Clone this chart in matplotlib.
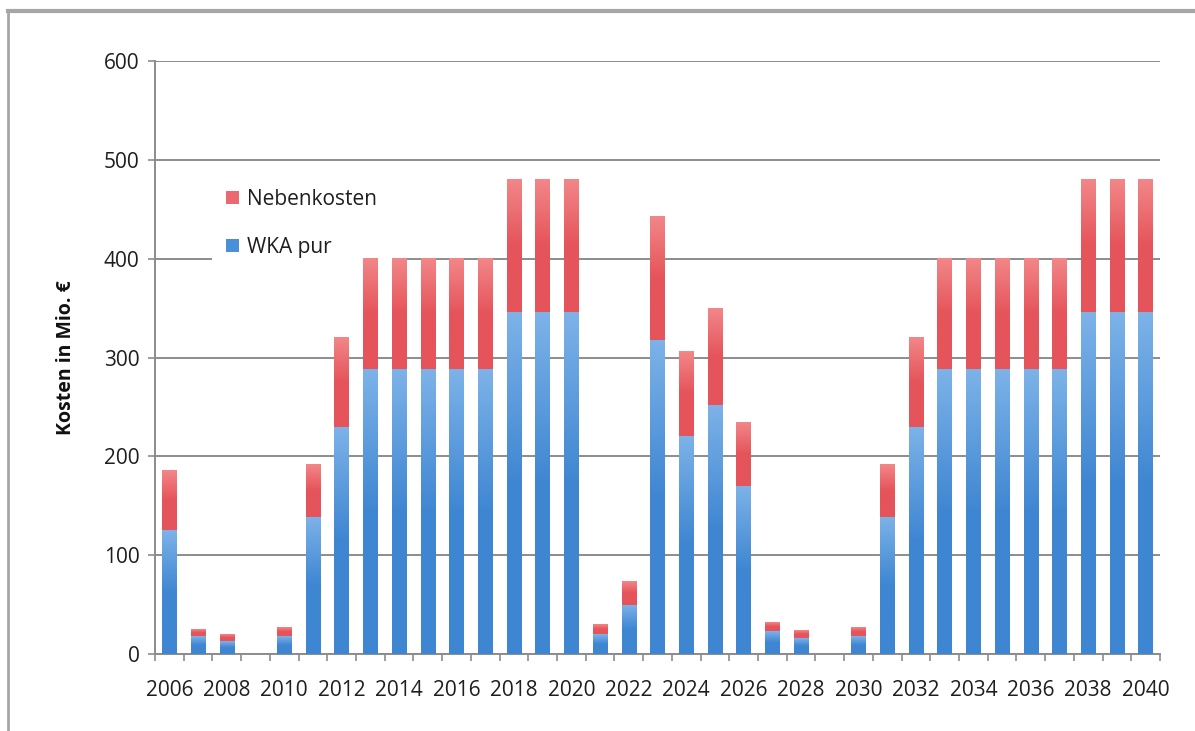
import numpy as np
import matplotlib
matplotlib.use("Agg")
import matplotlib.pyplot as plt
from matplotlib.colors import LinearSegmentedColormap
from matplotlib.patches import Patch
from matplotlib.lines import Line2D

plt.rcParams['font.family'] = ['Open Sans', 'DejaVu Sans']

years = list(range(2006, 2041))
wka_pur = [125, 18, 13, 0, 18, 139, 230,
           288, 288, 288, 288, 288, 346, 346, 346,
           20, 50, 318, 221, 252, 170, 23, 16, 0, 18, 139, 230,
           288, 288, 288, 288, 288, 346, 346, 346]
nebenkosten = [60, 7, 7, 0, 9, 53, 91,
               112, 112, 112, 112, 112, 134, 134, 134,
               10, 24, 125, 86, 98, 64, 9, 8, 0, 9, 53, 91,
               112, 112, 112, 112, 112, 134, 134, 134]
tick_labels = [str(y) if (y - 2006) % 2 == 0 else "" for y in years]

blue_top, blue_bot = "#7cb2e8", "#3f86d2"
red_top, red_bot = "#f28688", "#e5545a"

fig = plt.figure(figsize=(11.95, 7.31), dpi=100)
ax = fig.add_axes([155 / 1195, 77 / 731, 1005 / 1195, 593 / 731])

x = np.arange(len(years))
b1 = ax.bar(x, wka_pur, width=0.5, color="none", zorder=3)
b2 = ax.bar(x, nebenkosten, width=0.5, bottom=wka_pur, color="none", zorder=3)


def shade(bars, top, bot):
    # vertical gradient fill for every bar segment
    cmap = LinearSegmentedColormap.from_list("g", [bot, bot, top])
    grad = np.linspace(0, 1, 64)[:, None]
    for b in bars:
        h = b.get_height()
        if h <= 0:
            continue
        x0, y0, w = b.get_x(), b.get_y(), b.get_width()
        ax.imshow(grad, cmap=cmap, origin="lower", aspect="auto",
                  extent=(x0, x0 + w, y0, y0 + h), zorder=3,
                  interpolation="bilinear")


shade(b1, blue_top, blue_bot)
shade(b2, red_top, red_bot)

ax.set_xlim(-0.5, len(years) - 0.5)
ax.set_ylim(0, 600)
ax.set_yticks(range(0, 601, 100))
ax.yaxis.grid(True, color="#8c8c8c", linewidth=1.4, zorder=0)
ax.set_axisbelow(True)

ax.set_xticks(x)
ax.set_xticklabels(tick_labels, fontsize=15, color="#1e1e1e")
ax.set_xticks(np.arange(-0.5, len(years)), minor=True)
ax.tick_params(axis="x", which="major", length=0, pad=19)
ax.tick_params(axis="x", which="minor", length=5, color="#8c8c8c", width=1.2)
ax.tick_params(axis="y", length=5, color="#8c8c8c", width=1.2,
               labelsize=15, labelcolor="#1e1e1e", pad=6)

for s in ["top", "right"]:
    ax.spines[s].set_visible(False)
for s in ["left", "bottom"]:
    ax.spines[s].set_color("#8c8c8c")
    ax.spines[s].set_linewidth(1.4)

ax.set_ylabel("Kosten in Mio. €", fontsize=14, fontweight="bold",
              color="#111111", labelpad=20)

handles = [Patch(facecolor="#ec6870", label="Nebenkosten"),
           Patch(facecolor="#4a90d8", label="WKA pur")]
leg = ax.legend(handles=handles, loc="upper left", bbox_to_anchor=(0.046, 0.827),
                fontsize=15, frameon=True, facecolor="white", edgecolor="none",
                framealpha=1, fancybox=False, handlelength=0.6, handleheight=0.6,
                handletextpad=0.4, labelspacing=1.3, borderpad=0.7)
leg.set_zorder(2)  # hides gridlines, stays under the bars
for t in leg.get_texts():
    t.set_color("#1e1e1e")

# outer chart frame (top and left edges)
fig.add_artist(Line2D([8 / 1195, 1.0], [1 - 11 / 731, 1 - 11 / 731],
                      transform=fig.transFigure, color="#a6a6a6", linewidth=3))
fig.add_artist(Line2D([8 / 1195, 8 / 1195], [0, 1 - 11 / 731],
                      transform=fig.transFigure, color="#a6a6a6", linewidth=2))

fig.savefig("out.png", dpi=100)
